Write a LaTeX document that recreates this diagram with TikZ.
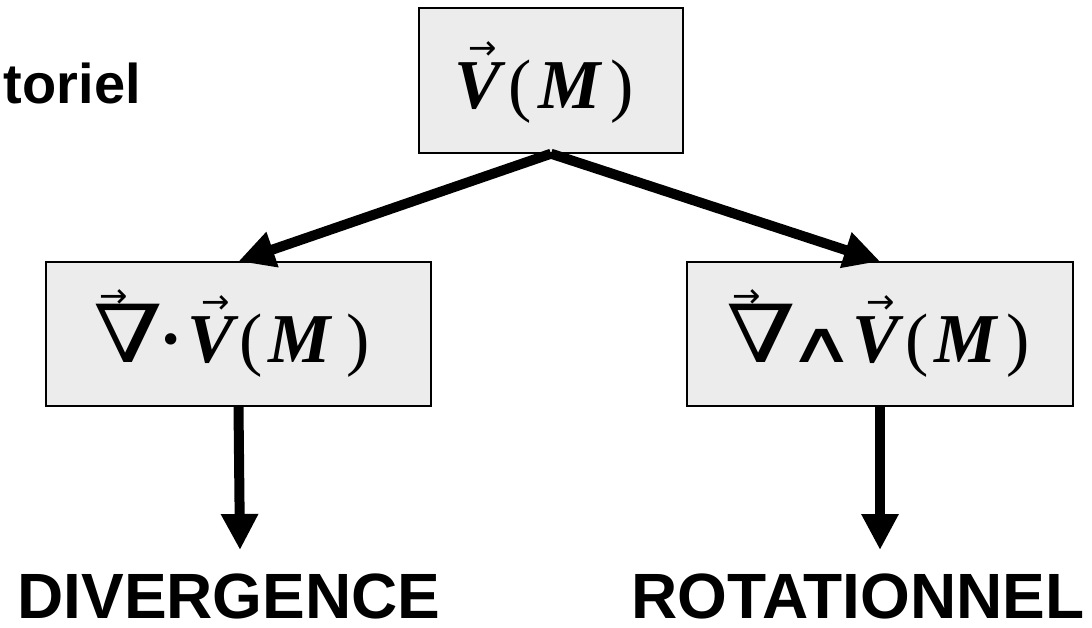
\documentclass[tikz,border=0pt]{standalone}
\usepackage{fontspec}
\setmainfont{Liberation Serif}
\newfontfamily\labelfont{Liberation Sans}
\newfontfamily\symfont{DejaVu Serif}
\newfontfamily\dvsans{DejaVu Sans}
\usetikzlibrary{arrows.meta}
\definecolor{boxgray}{HTML}{ECECEC}
% arrow accent: [kern from left]{raise}{glyph}
\newcommand{\ovec}[3][0pt]{\leavevmode\hbox{\rlap{\kern#1\raisebox{#2}{\dvsans\fontsize{34}{36}\selectfont →}}#3}}
\newcommand{\bi}[1]{{\bfseries\itshape #1}}
\newcommand{\nab}{\scalebox{1.25}[1]{\symfont\fontsize{80}{90}\selectfont ∇}}
\newcommand{\wdg}{\scalebox{1.8}[1.1]{\dvsans\fontsize{52}{60}\selectfont ∧}}
\begin{document}
\begin{tikzpicture}[x=1pt,y=-1pt,
  vbox/.style={draw=black, line width=1.4pt, fill=boxgray, inner sep=0pt,
    text height=68pt, text depth=12pt, font=\fontsize{70}{80}\selectfont},
  conn/.style={line width=10pt, -{Triangle[length=36pt,width=35pt]}},
  lbl/.style={font=\labelfont\bfseries\fontsize{64}{70}\selectfont, inner sep=0pt, anchor=base}]
\useasboundingbox (0,0) rectangle (1092,627);
\node[vbox, minimum width=264pt, minimum height=145pt] (top) at (551,80.5)
  {\kern-14pt\ovec[14pt]{49pt}{\bi{V}}\kern8pt(\kern6pt\bi{M}\kern10pt)};
\node[vbox, minimum width=385pt, minimum height=144pt] (left) at (238.5,334)
  {\kern-14pt\ovec[6pt]{55pt}{\nab}\kern-4pt{\bfseries·}\kern5pt\ovec[14pt]{49pt}{\bi{V}}\kern5pt(\kern6pt\bi{M}\kern15pt)};
\node[vbox, minimum width=386pt, minimum height=144pt] (right) at (880,334)
  {\kern-4pt\ovec[6pt]{55pt}{\nab}\kern-9pt\wdg\kern-3pt\ovec[14pt]{49pt}{\bi{V}}\kern6pt(\kern6pt\bi{M}\kern9pt)};
\node[font=\labelfont\bfseries\fontsize{56}{60}\selectfont, anchor=base east, inner sep=0pt] (ttl) at (141,103) {toriel};
\coordinate (dend) at (240,550);
\coordinate (rend) at (880,550);
\node[lbl] (div) at (229,618) {DIVERGENCE};
\node[lbl] (rot) at (858,618) {ROTATIONNEL};
\draw[conn] (top.south) -- (left.north);
\draw[conn] (top.south) -- (right.north);
\draw[conn] (left.south) -- (dend);
\draw[conn] (right.south) -- (rend);
\end{tikzpicture}
\end{document}
